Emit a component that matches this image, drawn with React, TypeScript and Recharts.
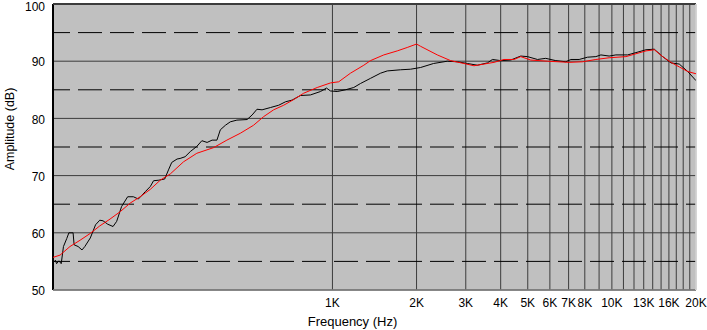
import React from "react";
import {
  LineChart,
  Line,
  XAxis,
  YAxis,
  CartesianGrid,
  ReferenceLine,
} from "recharts";

// measured response (black)
const measuredHz = [
  100, 102, 103, 105, 107, 109, 112, 114, 118, 119, 123, 127, 130, 136, 142,
  147, 151, 157, 164, 169, 176, 185, 194, 202, 214, 223, 229, 239, 251, 259,
  266, 278, 285, 297, 310, 327, 341, 356, 371, 386, 397, 414, 431, 455, 495,
  516, 537, 560, 600, 642, 679, 717, 768, 834, 906, 952, 984, 1040, 1113,
  1192, 1260, 1368, 1486, 1571, 1753, 1904, 2068, 2301, 2577, 2799, 3040,
  3301, 3585, 3737, 4002, 4345, 4719, 4987, 5416, 5800, 6299, 6841, 7131,
  7636, 8185, 8764, 9134, 9779, 10335, 11383, 12190, 13245, 14183, 15196,
  16276, 17426, 18677, 20000,
];
const measuredDb = [
  54.7, 55.2, 54.6, 55.1, 54.6, 57.6, 59.0, 60.0, 60.0, 57.9, 57.6, 57.0,
  57.6, 59.1, 61.4, 62.2, 62.1, 61.5, 61.1, 62.0, 64.6, 66.3, 66.3, 65.9,
  67.2, 68.1, 69.1, 69.2, 69.4, 71.0, 72.3, 72.9, 73.0, 73.3, 74.2, 75.1,
  76.1, 75.8, 76.2, 76.2, 78.0, 78.8, 79.4, 79.7, 79.8, 80.6, 81.6, 81.5,
  81.9, 82.3, 82.9, 83.2, 84.0, 84.1, 84.7, 85.3, 84.8, 84.7, 85.0, 85.4,
  86.1, 87.0, 87.9, 88.3, 88.5, 88.6, 88.9, 89.6, 90.0, 89.9, 89.6, 89.3,
  89.7, 90.3, 90.1, 90.2, 90.9, 90.8, 90.3, 90.5, 90.1, 89.9, 90.3, 90.3,
  90.7, 90.8, 91.1, 90.9, 91.1, 91.1, 91.5, 92.0, 92.1, 90.8, 89.7, 89.5,
  88.2, 86.6,
];

// target / smoothed response (red)
const targetHz = [
  100, 106, 115, 125, 136, 147, 160, 174, 189, 205, 223, 242, 263, 293, 327,
  376, 419, 468, 522, 567, 616, 669, 727, 789, 882, 984, 1053, 1160, 1295,
  1368, 1527, 1706, 1852, 2000, 2068, 2373, 2648, 2955, 3210, 3486, 3786,
  4111, 4465, 4719, 5124, 5883, 7031, 7852, 8764, 9779, 11224, 12190, 13245,
  14183, 15196, 16276, 17426, 18677, 20000,
];
const targetDb = [
  55.7, 56.1, 57.6, 58.7, 59.9, 61.2, 62.4, 63.7, 65.2, 66.3, 67.6, 69.2,
  70.3, 72.4, 73.9, 74.9, 76.2, 77.4, 78.8, 80.3, 81.5, 82.3, 83.3, 84.4,
  85.4, 86.2, 86.4, 87.9, 89.3, 90.1, 91.1, 91.8, 92.4, 93.0, 92.6, 91.1,
  90.1, 89.6, 89.2, 89.5, 89.8, 90.3, 90.3, 90.8, 90.2, 90.0, 89.8, 89.9,
  90.3, 90.6, 90.8, 91.3, 91.8, 92.0, 90.8, 89.8, 89.0, 88.2, 87.8,
];

const xTicks = [
  1000, 2000, 3000, 4000, 5000, 6000, 7000, 8000, 9000, 10000, 11000, 12000,
  13000, 14000, 15000, 16000, 17000, 18000, 19000, 20000,
];
const xTickLabels = [
  "1K", "2K", "3K", "4K", "5K", "6K", "7K", "8K", "", "10K", "", "", "13K",
  "", "", "16K", "", "", "", "20K",
];
const yTicks = [50, 60, 70, 80, 90, 100];
const dashedLevels = [55, 65, 75, 85, 95];

const measured = measuredHz.map((hz, i) => ({ hz, db: measuredDb[i] }));
const target = targetHz.map((hz, i) => ({ hz, db: targetDb[i] }));

const tickStyle = { fill: "#000", fontSize: 12 };

// top label sits right at the edge, nudge it down so it isn't clipped
function YTick(props: any) {
  const { x, y, payload } = props;
  const shift = payload.value === 100 ? 3 : 1;
  return (
    <text x={x} y={y + shift} dy="0.355em" textAnchor="end" fill="#000" fontSize={12}>
      {payload.value}
    </text>
  );
}

export default function App() {
  return (
    <div
      style={{
        position: "absolute",
        left: 0,
        top: 0,
        fontFamily: "'Liberation Sans', Arial, sans-serif",
      }}
    >
      <LineChart
        width={707}
        height={330}
        margin={{ top: 4, right: 11, bottom: 0, left: 0 }}
      >
        <CartesianGrid fill="#c0c0c0" stroke="#3c3c3c" />
        <XAxis
          dataKey="hz"
          type="number"
          scale="log"
          domain={[100, 20000]}
          allowDataOverflow
          ticks={xTicks}
          interval={0}
          tickFormatter={(v: number) => xTickLabels[xTicks.indexOf(v)] ?? ""}
          tick={tickStyle}
          tickLine={false}
          axisLine={false}
          height={40}
          label={{
            value: "Frequency (Hz)",
            position: "insideBottom",
            offset: 4,
            dx: -22,
            fill: "#000",
            fontSize: 13,
          }}
        />
        <YAxis
          type="number"
          domain={[50, 100]}
          ticks={yTicks}
          interval={0}
          tick={<YTick />}
          tickLine={false}
          axisLine={false}
          width={53}
          label={{
            value: "Amplitude (dB)",
            angle: -90,
            position: "insideLeft",
            offset: 10,
            dy: -18,
            fill: "#000",
            fontSize: 12.5,
            style: { textAnchor: "middle" },
          }}
        />
        {dashedLevels.map((lv) => (
          <ReferenceLine
            key={lv}
            y={lv}
            stroke="#000"
            strokeDasharray="24 8"
            strokeDashoffset={7}
          />
        ))}
        <ReferenceLine x={100} stroke="#000" strokeWidth={2} />
        <ReferenceLine y={100} stroke="#3c3c3c" strokeWidth={2} />
        <ReferenceLine y={50} stroke="#808080" strokeWidth={1.5} />
        <ReferenceLine x={20000} stroke="#e8e8e8" strokeWidth={1.5} />
        <Line
          data={measured}
          dataKey="db"
          type="linear"
          stroke="#000"
          strokeWidth={1}
          dot={false}
          isAnimationActive={false}
        />
        <Line
          data={target}
          dataKey="db"
          type="linear"
          stroke="#ff0000"
          strokeWidth={1}
          dot={false}
          isAnimationActive={false}
        />
      </LineChart>
    </div>
  );
}
